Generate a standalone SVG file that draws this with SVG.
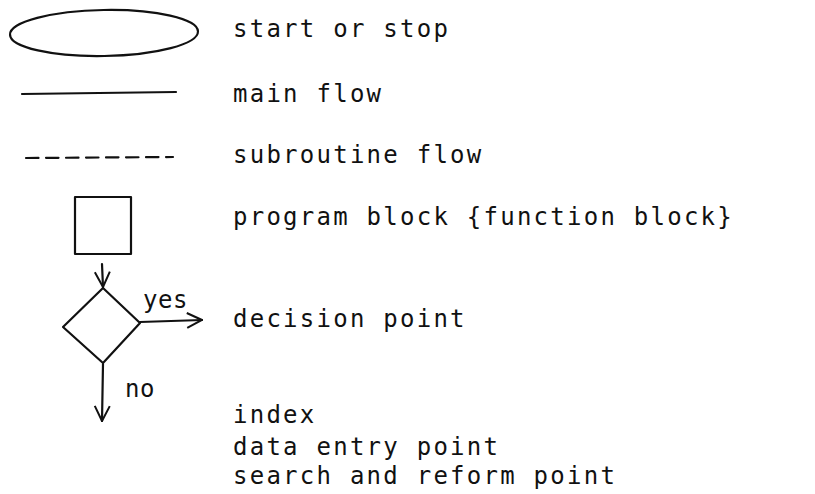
<svg xmlns="http://www.w3.org/2000/svg" width="815" height="494" viewBox="0 0 815 494">
<defs>
<style>
.t{font-family:"DejaVu Sans Mono","Liberation Mono",monospace;font-size:24px;letter-spacing:2.25px;fill:#111}
.s{fill:none;stroke:#111;stroke-width:2.2;stroke-linecap:round;stroke-linejoin:round}
</style>
<marker id="v" viewBox="0 0 18 18" refX="17" refY="9" markerWidth="18" markerHeight="18" markerUnits="userSpaceOnUse" orient="auto">
<path d="M2,1.5 L17,9 L2,16.5" fill="none" stroke="#111" stroke-width="2"/>
</marker>
</defs>
<rect width="815" height="494" fill="#fff"/>
<g id="start-stop"><ellipse class="s" cx="104" cy="33" rx="94" ry="23" transform="rotate(-1 104 33)"/></g>
<g id="main-flow"><line class="s" x1="22" y1="94" x2="176" y2="92"/></g>
<g id="subroutine-flow"><line class="s" x1="26" y1="158" x2="173" y2="157" stroke-dasharray="12.5 7.5"/></g>
<g id="program-block"><rect class="s" x="75" y="197" width="56" height="57"/></g>
<g id="decision"><path class="s" d="M103,288 L140,323 L103,363 L63,327 Z"/></g>
<g id="connectors">
<line class="s" x1="102" y1="264" x2="103" y2="287" marker-end="url(#v)"/>
<line class="s" x1="140" y1="322" x2="202" y2="320" marker-end="url(#v)"/>
<line class="s" x1="103" y1="364" x2="102" y2="421" marker-end="url(#v)"/>
</g>
<g id="labels">
<text class="t" x="143" y="308" style="letter-spacing:0.5px">yes</text>
<text class="t" x="125" y="397" style="letter-spacing:0.5px">no</text>
<text class="t" x="233" y="37">start or stop</text>
<text class="t" x="233" y="102">main flow</text>
<text class="t" x="233" y="163">subroutine flow</text>
<text class="t" x="233" y="225">program block {function block}</text>
<text class="t" x="233" y="327">decision point</text>
<text class="t" x="233" y="423">index</text>
<text class="t" x="233" y="455">data entry point</text>
<text class="t" x="233" y="484">search and reform point</text>
</g>
</svg>
